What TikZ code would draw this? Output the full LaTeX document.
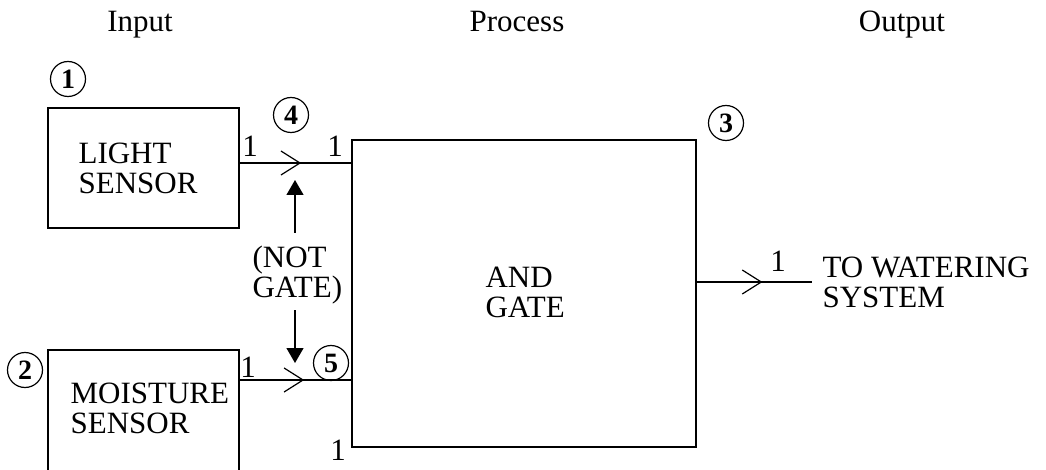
\documentclass[tikz,border=0pt]{standalone}
\usepackage{fontspec}
\setmainfont{Liberation Serif}
\usetikzlibrary{arrows.meta,decorations.markings}

\tikzset{
  lbl/.style={font=\fontsize{31}{30}\selectfont, align=left, inner sep=0pt},
  numcirc/.style={draw, circle, minimum size=35pt, inner sep=0pt,
    font=\fontsize{28}{28}\selectfont\bfseries},
  blockbox/.style={draw, inner sep=0pt},
  sig/.style={postaction=decorate, decoration={markings,
    mark=at position #1 with {\arrow{Straight Barb[length=19pt,width=24pt]}}}},
  ctrl/.style={-{Triangle[length=15pt,width=17pt]}},
}

\begin{document}
\begin{tikzpicture}[x=1pt, y=-1pt, line width=1.2pt]
    \useasboundingbox (0,0) rectangle (1046,470);

    % Column headings
    \node[lbl, anchor=base] (hin)   at (140,32) {Input};
    \node[lbl, anchor=base] (hproc) at (517,32) {Process};
    \node[lbl, anchor=base] (hout)  at (902,32) {Output};

    % Light sensor block 1
    \node[blockbox, minimum width=191pt, minimum height=120pt] (light) at (143.5,168) {};
    \node[lbl, anchor=base west] (lighttxt) at (78,194) {LIGHT\\SENSOR};
    \node[numcirc] (c1) at (68,79) {1};

    % Moisture sensor block 2 (runs off the bottom)
    \coordinate (mbl) at (48,470);
    \coordinate (mtr) at (239,350);
    \draw (mbl) |- (mtr) -- (mtr |- mbl);
    \node[lbl, anchor=base west] (moisttxt) at (70,433) {MOISTURE\\SENSOR};
    \node[numcirc] (c2) at (25,370) {2};

    % AND gate block 3
    \node[blockbox, minimum width=344pt, minimum height=307pt] (gate) at (524,293.5) {};
    \node[lbl, anchor=base west] (gatetxt) at (485,317) {AND\\GATE};
    \node[numcirc] (c3) at (726,123) {3};

    % Signal lines into the gate
    \coordinate (lout) at (light.east |- 0,163);
    \coordinate (mout) at (mtr |- 0,380);
    \draw[sig=0.55] (lout) -- (lout -| gate.west);
    \draw[sig=0.58] (mout) -- (mout -| gate.west);
    \node[lbl, anchor=base] (o1) at (250,157) {1};
    \node[lbl, anchor=base] (i1) at (335,157) {1};
    \node[lbl, anchor=base] (o2) at (248,377) {1};
    \node[lbl, anchor=base] (i2) at (338,460) {1};
    \node[numcirc] (c4) at (291,115) {4};
    \node[numcirc] (c5) at (331,363) {5};

    % NOT gate arrows
    \node[lbl, anchor=base west] (notgate) at (252,297) {(NOT\\GATE)};
    \coordinate (upbot) at (295,233);
    \coordinate (uptip) at (295,180);
    \coordinate (dntop) at (295,310);
    \coordinate (dntip) at (295,363);
    \draw[ctrl] (upbot) -- (uptip);
    \draw[ctrl] (dntop) -- (dntip);

    % Output
    \coordinate (gout) at (gate.east |- 0,282);
    \coordinate (wend) at (812,282);
    \draw[sig=0.57] (gout) -- (wend);
    \node[lbl, anchor=base] (o3) at (778,272) {1};
    \node[lbl, anchor=base west] (watering) at (822,307) {TO WATERING\\SYSTEM};
\end{tikzpicture}
\end{document}
